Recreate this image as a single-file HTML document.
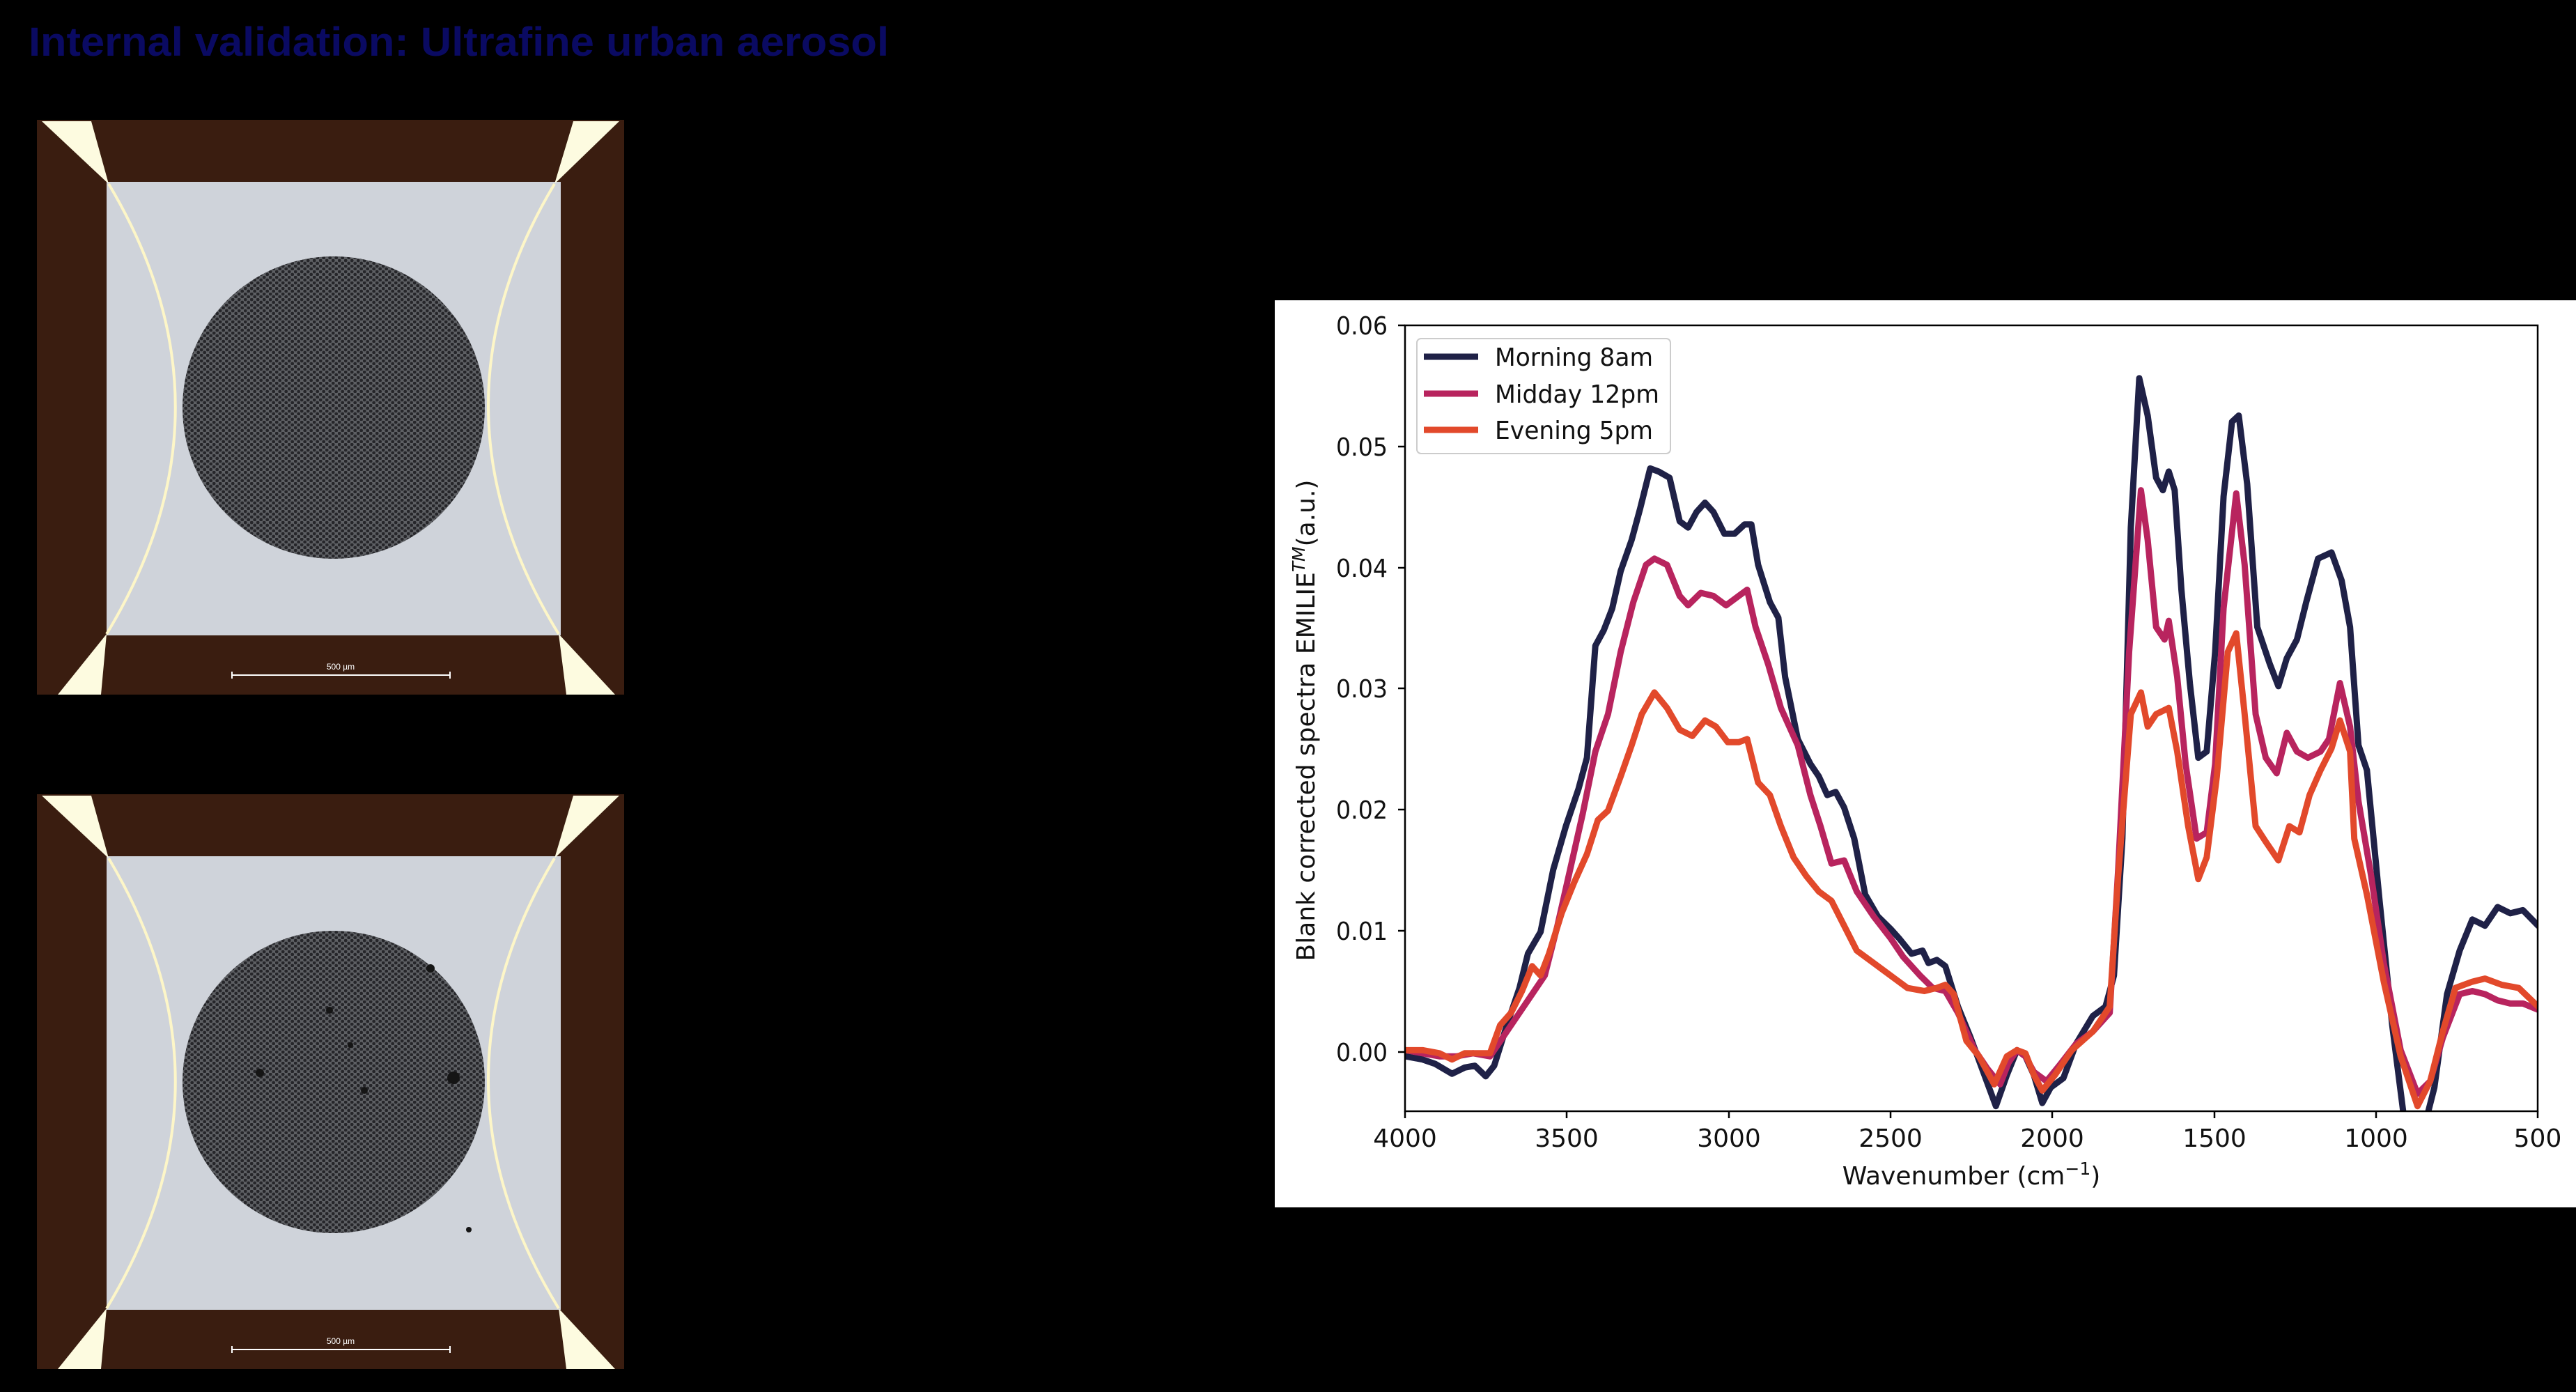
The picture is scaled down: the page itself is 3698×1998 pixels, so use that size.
<!DOCTYPE html>
<html><head><meta charset="utf-8"><style>
html,body{margin:0;padding:0;background:#000;}
svg{display:block;}
</style></head><body>
<svg width="3698" height="1998" viewBox="0 0 3698 1998" xmlns="http://www.w3.org/2000/svg">
<defs>
<pattern id="hc" width="9" height="8" patternUnits="userSpaceOnUse">
<rect width="9" height="8" fill="#5e6064"/>
<circle cx="2.2" cy="2" r="2.4" fill="#26262a"/>
<circle cx="6.7" cy="6" r="2.4" fill="#26262a"/>
</pattern>
<g id="micro">
<rect x="0" y="0" width="843" height="825" fill="#3a1d10"/>
<rect x="100" y="89" width="652" height="651" fill="#cfd3da"/>
<polygon points="7,2 78,2 103,92" fill="#fdfbe0"/>
<polygon points="770,2 836,2 743,92" fill="#fdfbe0"/>
<polygon points="100,738 30,825 92,825" fill="#fdfbe0"/>
<polygon points="749,738 760,825 830,825" fill="#fdfbe0"/>
<path d="M103,92 Q296,415 100,738" fill="none" stroke="#fdf6c8" stroke-width="4"/>
<path d="M743,92 Q550,415 749,738" fill="none" stroke="#fdf6c8" stroke-width="4"/>
<circle cx="426" cy="413" r="217" fill="url(#hc)"/>
<line x1="280" y1="797" x2="593" y2="797" stroke="#fff" stroke-width="2"/>
<line x1="280" y1="792" x2="280" y2="802" stroke="#fff" stroke-width="2"/>
<line x1="593" y1="792" x2="593" y2="802" stroke="#fff" stroke-width="2"/>
<text x="436" y="789" font-family="Liberation Sans, sans-serif" font-size="12" fill="#fff" text-anchor="middle">500 µm</text>
</g>
<clipPath id="pc"><rect x="2017" y="467" width="1626" height="1128"/></clipPath>
</defs>

<text x="41" y="80" font-family="Liberation Sans, sans-serif" font-size="58" font-weight="bold" fill="#0a0a62" textLength="1235" lengthAdjust="spacingAndGlyphs">Internal validation: Ultrafine urban aerosol</text>

<use href="#micro" x="53" y="172"/>
<use href="#micro" x="53" y="1140"/>
<g transform="translate(53,1140)">
<circle cx="320" cy="400" r="6" fill="#151515"/><circle cx="420" cy="310" r="5" fill="#151515"/>
<circle cx="565" cy="250" r="6" fill="#151515"/><circle cx="598" cy="407" r="9" fill="#151515"/>
<circle cx="450" cy="360" r="4" fill="#151515"/><circle cx="470" cy="425" r="5" fill="#151515"/>
<circle cx="620" cy="625" r="4" fill="#151515"/>
</g>

<rect x="1830" y="431" width="1868" height="1302" fill="#fff"/>

<g clip-path="url(#pc)" fill="none" stroke-width="9" stroke-linejoin="round" stroke-linecap="round">
<g transform="translate(1800,400) scale(1.2105,0.893)">
<polyline vector-effect="non-scaling-stroke" stroke="#1f2147" points="180,1250 200,1255 215,1262 235,1278 250,1268 262,1265 275,1282 285,1265 300,1200 315,1140 325,1085 340,1050 355,950 370,880 385,820 395,770 405,590 415,565 425,530 435,470 448,420 458,370 470,305 480,310 493,320 505,390 515,400 525,375 535,360 545,375 558,410 570,410 582,395 590,395 598,460 612,520 622,545 630,640 645,740 660,780 670,800 680,830 690,825 700,850 712,900 725,990 740,1025 755,1045 765,1060 780,1085 793,1080 800,1100 810,1095 820,1105 835,1170 850,1220 865,1275 880,1330 893,1280 905,1240 915,1250 925,1280 935,1325 945,1300 960,1285 975,1230 995,1185 1010,1170 1020,1120 1030,900 1040,400 1050,160 1060,220 1070,320 1078,340 1085,310 1092,340 1100,500 1110,650 1120,770 1130,760 1140,600 1150,350 1160,230 1168,220 1178,330 1190,560 1205,620 1215,655 1225,610 1237,580 1248,520 1262,450 1278,440 1290,485 1300,560 1310,750 1320,790 1335,1000 1350,1200 1365,1360 1385,1380 1400,1300 1415,1150 1430,1080 1445,1030 1460,1040 1475,1010 1490,1020 1505,1015 1523,1040"/>
<polyline vector-effect="non-scaling-stroke" stroke="#b8245e" points="180,1240 200,1245 220,1250 240,1250 260,1245 280,1250 290,1230 300,1210 315,1180 330,1150 345,1120 360,1040 375,950 390,860 405,760 420,700 435,600 450,520 465,460 475,450 490,460 505,510 515,525 530,505 545,510 560,525 575,510 585,500 595,560 610,620 625,690 645,750 660,830 672,880 685,940 700,935 715,985 735,1025 755,1060 770,1090 790,1120 805,1140 820,1145 835,1180 855,1240 870,1270 885,1295 895,1260 905,1240 915,1250 925,1275 940,1290 955,1265 975,1230 995,1210 1015,1180 1025,950 1038,600 1052,340 1060,420 1070,560 1080,580 1085,550 1095,640 1105,780 1118,900 1130,890 1140,780 1150,530 1165,345 1175,460 1188,700 1200,770 1213,795 1225,730 1237,760 1250,770 1265,760 1275,740 1288,650 1300,720 1310,840 1325,960 1340,1100 1360,1240 1380,1310 1395,1290 1410,1220 1430,1150 1445,1145 1460,1150 1475,1160 1490,1165 1505,1165 1523,1175"/>
<polyline vector-effect="non-scaling-stroke" stroke="#e2492b" points="180,1240 200,1240 220,1245 235,1255 250,1245 265,1245 280,1245 292,1200 305,1180 318,1145 330,1105 340,1120 350,1085 365,1020 380,970 395,925 408,870 420,855 435,800 448,750 460,700 475,665 490,690 505,725 520,735 535,710 548,720 562,745 575,745 585,740 598,810 612,830 625,880 640,930 655,960 670,985 685,1000 700,1040 715,1080 735,1100 755,1120 775,1140 795,1145 810,1140 820,1135 830,1150 845,1225 860,1250 878,1295 893,1250 905,1240 915,1245 925,1280 935,1305 950,1280 970,1240 995,1210 1015,1170 1025,960 1040,700 1052,665 1060,720 1070,700 1085,690 1095,760 1108,880 1120,965 1130,930 1142,800 1155,600 1165,570 1175,700 1188,880 1200,905 1215,935 1228,880 1240,890 1252,830 1265,790 1278,755 1288,710 1300,760 1305,900 1320,990 1340,1130 1360,1250 1380,1330 1395,1290 1410,1210 1425,1140 1445,1130 1460,1125 1480,1135 1500,1140 1523,1170"/>
</g>
</g>

<rect x="2017" y="467" width="1626" height="1128" fill="none" stroke="#000" stroke-width="2.5"/>

<g stroke="#000" stroke-width="2.5">
<line x1="2007" y1="1510" x2="2017" y2="1510"/><line x1="2007" y1="1336" x2="2017" y2="1336"/>
<line x1="2007" y1="1162" x2="2017" y2="1162"/><line x1="2007" y1="988" x2="2017" y2="988"/>
<line x1="2007" y1="815" x2="2017" y2="815"/><line x1="2007" y1="641" x2="2017" y2="641"/>
<line x1="2007" y1="467" x2="2017" y2="467"/>
<line x1="2017" y1="1595" x2="2017" y2="1605"/><line x1="2249" y1="1595" x2="2249" y2="1605"/>
<line x1="2482" y1="1595" x2="2482" y2="1605"/><line x1="2714" y1="1595" x2="2714" y2="1605"/>
<line x1="2946" y1="1595" x2="2946" y2="1605"/><line x1="3179" y1="1595" x2="3179" y2="1605"/>
<line x1="3411" y1="1595" x2="3411" y2="1605"/><line x1="3643" y1="1595" x2="3643" y2="1605"/>
</g>

<g font-family="DejaVu Sans, Liberation Sans, sans-serif" font-size="36" fill="#111">
<g text-anchor="end">
<text x="1992" y="1523" textLength="74" lengthAdjust="spacingAndGlyphs">0.00</text>
<text x="1992" y="1349" textLength="74" lengthAdjust="spacingAndGlyphs">0.01</text>
<text x="1992" y="1175" textLength="74" lengthAdjust="spacingAndGlyphs">0.02</text>
<text x="1992" y="1001" textLength="74" lengthAdjust="spacingAndGlyphs">0.03</text>
<text x="1992" y="828" textLength="74" lengthAdjust="spacingAndGlyphs">0.04</text>
<text x="1992" y="654" textLength="74" lengthAdjust="spacingAndGlyphs">0.05</text>
<text x="1992" y="480" textLength="74" lengthAdjust="spacingAndGlyphs">0.06</text>
</g>
<g text-anchor="middle">
<text x="2017" y="1646">4000</text>
<text x="2249" y="1646">3500</text>
<text x="2482" y="1646">3000</text>
<text x="2714" y="1646">2500</text>
<text x="2946" y="1646">2000</text>
<text x="3179" y="1646">1500</text>
<text x="3411" y="1646">1000</text>
<text x="3643" y="1646">500</text>
<text x="2830" y="1700">Wavenumber (cm<tspan font-size="25" dy="-14">−1</tspan><tspan dy="14">)</tspan></text>
<text transform="translate(1887,1034) rotate(-90)">Blank corrected spectra EMILIE<tspan font-size="25" dy="-14" font-style="italic">TM</tspan><tspan dy="14">(a.u.)</tspan></text>
</g>
<rect x="2034" y="486" width="364" height="165" rx="6" fill="#fff" stroke="#ccc" stroke-width="2"/>
<line x1="2044" y1="512" x2="2122" y2="512" stroke="#1f2147" stroke-width="9"/>
<line x1="2044" y1="565" x2="2122" y2="565" stroke="#b8245e" stroke-width="9"/>
<line x1="2044" y1="617" x2="2122" y2="617" stroke="#e2492b" stroke-width="9"/>
<text x="2146" y="525" textLength="227" lengthAdjust="spacingAndGlyphs">Morning 8am</text>
<text x="2146" y="578" textLength="236" lengthAdjust="spacingAndGlyphs">Midday 12pm</text>
<text x="2146" y="630" textLength="227" lengthAdjust="spacingAndGlyphs">Evening 5pm</text>
</g>
</svg>
</body></html>
